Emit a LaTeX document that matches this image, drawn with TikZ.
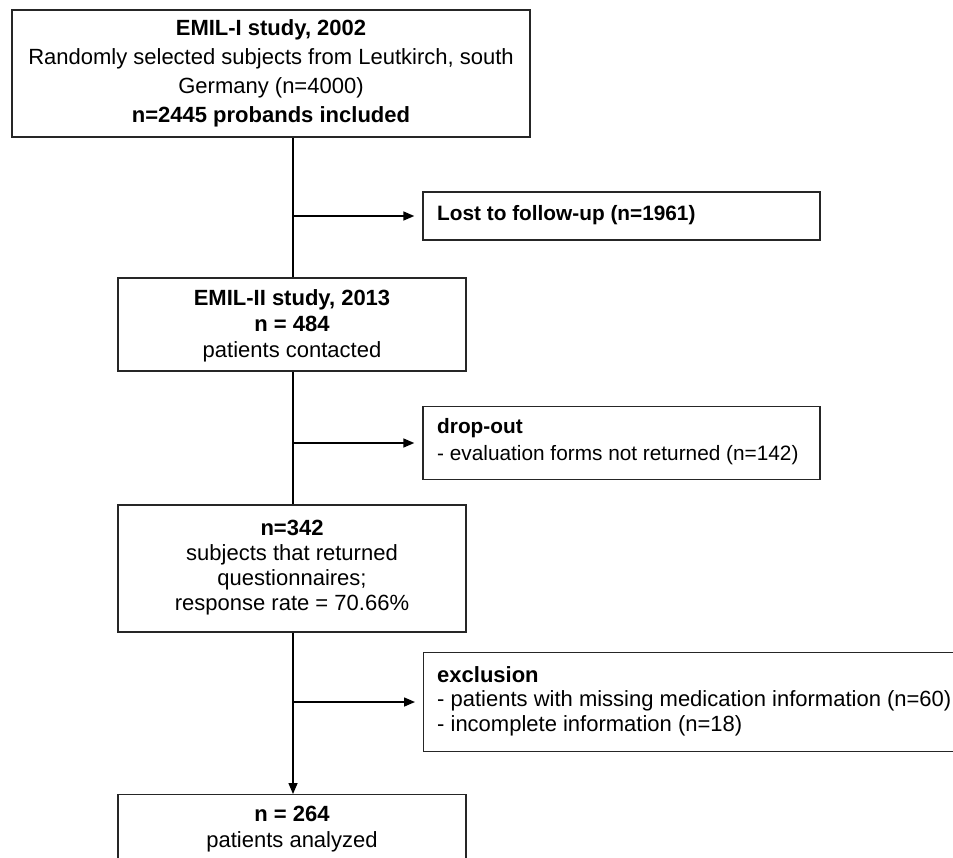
\documentclass[tikz,border=0pt]{standalone}
\usepackage{fontspec}
\setmainfont{Liberation Sans}
\usetikzlibrary{arrows.meta}
\begin{document}
\begin{tikzpicture}[x=1pt,y=-1pt,
  box/.style={draw=black!85, line width=1.4pt, inner sep=0pt, fill=white},
  ctext/.style={align=center, inner sep=0pt, font=\fontsize{22}{#1}\selectfont},
  ltext/.style={align=left, inner sep=0pt, font=\fontsize{22}{#1}\selectfont},
  stext/.style={align=left, inner sep=0pt, font=\fontsize{20.8}{#1}\selectfont},
  conn/.style={line width=1.5pt, draw=black},
  tip/.style={-{Triangle[length=11pt,width=9pt]}},
  arr/.style={conn, tip, shorten >=8pt}]
\useasboundingbox (0,0) rectangle (953,857);
\clip (0,0) rectangle (953,857);
\fill[white] (0,0) rectangle (953,857);

% boxes
\node[box, minimum width=518pt, minimum height=127pt] (b1) at (271,73.5) {};
\node[ctext=29] (t1) at (271,73.5) {\textbf{EMIL-I study, 2002}\\Randomly selected subjects from Leutkirch, south\\Germany (n=4000)\\\textbf{n=2445 probands included}};

\node[box, minimum width=348pt, minimum height=93pt] (b2) at (292,324.5) {};
\node[ctext=26] (t2) at (292,326) {\textbf{EMIL-II study, 2013}\\\textbf{n = 484}\\patients contacted};

\node[box, minimum width=348pt, minimum height=127pt] (b3) at (292,568.5) {};
\node[ctext=25] (t3) at (292,568) {\textbf{n=342}\\subjects that returned\\questionnaires;\\response rate = 70.66\%};

\node[box, minimum width=348pt, minimum height=100pt, anchor=north] (b4) at (292,794) {};
\node[ctext=26, anchor=north] (t4) at (292,806) {\textbf{n = 264}\\patients analyzed};

\node[box, minimum width=397pt, minimum height=48pt] (lost) at (621.5,216) {};
\node[stext=26, anchor=west] (t5) at (437,215) {\textbf{Lost to follow-up (n=1961)}};

\node[box, minimum width=397pt, minimum height=73pt] (drop) at (621.5,443) {};
\node[stext=27, anchor=west] (t6) at (437,442) {\textbf{drop-out}\\- evaluation forms not returned (n=142)};

\node[box, minimum width=560pt, minimum height=99pt, anchor=west] (excl) at (423,702) {};
\node[ltext=24.5, anchor=west] (t7) at (437,701) {\textbf{exclusion}\\- patients with missing medication information (n=60)\\- incomplete information (n=18)};

% connectors
\coordinate (s1) at (b1.south -| b2.north);
\coordinate (j1) at (b2.center |- lost.west);
\coordinate (j2) at (b2.center |- drop.west);
\coordinate (j3) at (b2.center |- excl.west);
\draw[conn] ([xshift=1pt]s1) -- ([xshift=1pt]b2.north);
\draw[conn] ([xshift=1pt]b2.south) -- ([xshift=1pt]b3.north);
\draw[conn, tip] ([xshift=1pt]b3.south) -- ([xshift=1pt]b4.north);
\draw[arr] ([xshift=1pt]j1) -- (lost.west);
\draw[arr] ([xshift=1pt]j2) -- (drop.west);
\draw[arr] ([xshift=1pt]j3) -- (excl.west);
\end{tikzpicture}
\end{document}
